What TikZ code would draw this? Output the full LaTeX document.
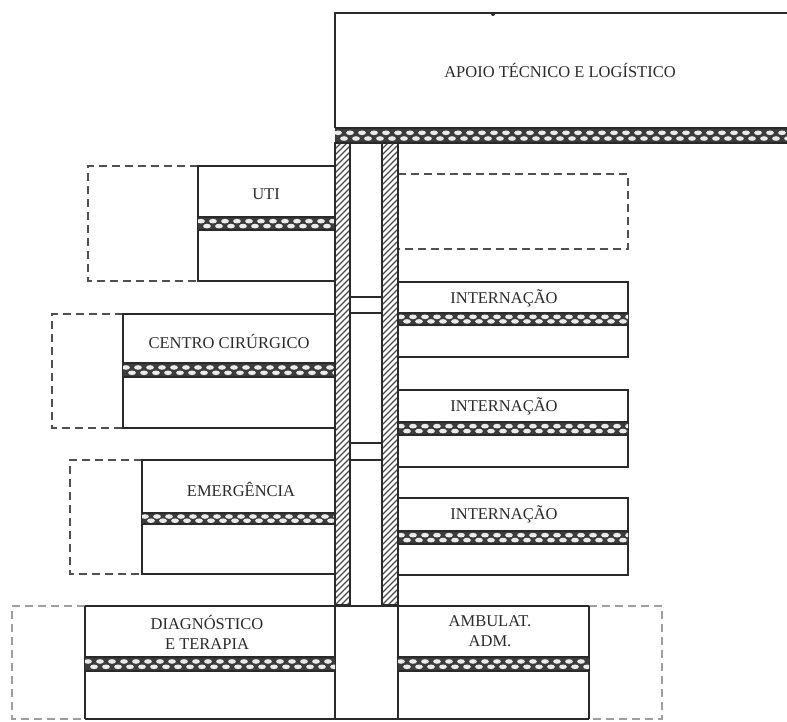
\documentclass[tikz,border=0pt]{standalone}
\usepackage{fontspec}
\setmainfont{Liberation Serif}
\definecolor{ink}{HTML}{2A2A2A}
\definecolor{bandgray}{HTML}{3C3C3C}
\definecolor{dashgray}{HTML}{505050}

% circulation band: dark strip with two staggered rows of light dots
% #1 left x, #2 right x, #3 top y, #4 bottom y
\newcommand{\serviceband}[4]{%
  \begin{scope}
    \clip (#1,#3) rectangle (#2,#4);
    \fill[bandgray] (#1,#3) rectangle (#2,#4);
    \foreach \k in {0,...,42}{
      \fill[white!92!black] ({#1+3+\k*12},{#3+0.32*(#4-#3)}) ellipse (3.9pt and 2.3pt);
      \fill[white!92!black] ({#1+9+\k*12},{#3+0.70*(#4-#3)}) ellipse (3.9pt and 2.3pt);
    }
  \end{scope}
  \draw[edge] (#1,#3) -- (#2,#3) (#1,#4) -- (#2,#4);
}

% hatched wall of the vertical shaft
% #1 left x, #2 right x, #3 top y, #4 bottom y
\newcommand{\shaftwall}[4]{%
  \begin{scope}
    \clip (#1,#3) rectangle (#2,#4);
    \foreach \k in {0,...,82}{
      \draw[ink!85, line width=1.1pt] ({#1-2},{#3+\k*6+2}) -- ({#2+2},{#3+\k*6-(#2-#1)-2});
    }
  \end{scope}
  \draw[edge] (#1,#3) rectangle (#2,#4);
}

% wing on the left of the shaft: dashed extension, solid block, band
% #1 dashed x, #2 solid x, #3 top, #4 band top, #5 band bottom, #6 bottom
\newcommand{\leftwing}[6]{%
  \draw[planned] (#2,#3) -- (#1,#3) -- (#1,#6) -- (#2,#6);
  \draw[edge] (335,#3) -- (#2,#3) -- (#2,#6) -- (335,#6);
  \serviceband{#2}{335}{#4}{#5}
}

% wing on the right of the shaft
% #1 top, #2 band top, #3 band bottom, #4 bottom
\newcommand{\rightwing}[4]{%
  \draw[edge] (398,#1) -- (628,#1) -- (628,#4) -- (398,#4);
  \serviceband{398}{628}{#2}{#3}
}

\begin{document}
\begin{tikzpicture}[x=1pt,y=-1pt,
  edge/.style={draw=ink,line width=1.4pt},
  planned/.style={draw=dashgray,line width=2pt,dash pattern=on 8pt off 5pt},
  faint/.style={draw=dashgray!55,line width=2pt,dash pattern=on 8pt off 5pt},
  label/.style={font=\fontsize{16.5}{20}\selectfont,align=center,inner sep=0pt,text=ink}]

\useasboundingbox (0,0) rectangle (787,721);

% technical and logistic support block (top)
\draw[edge] (787,13) -- (335,13) -- (335,128);
\fill[ink] (493,14) circle (2pt);
\serviceband{335}{787}{128}{143}
\node[label] (apoio) at (560,70) {APOIO TÉCNICO E LOGÍSTICO};

% left wings
\leftwing{88}{198}{166}{217}{230}{281}
\node[label] (uti) at (266,194) {UTI};

\leftwing{52}{123}{314}{363}{377}{428}
\node[label] (cc) at (229,341) {CENTRO CIRÚRGICO};

\leftwing{70}{142}{460}{513}{524}{574}
\node[label] (emerg) at (241,489) {EMERGÊNCIA};

% right wings
\draw[planned] (398,174) -- (628,174) -- (628,249) -- (398,249);

\rightwing{282}{313}{325}{357}
\node[label] (int1) at (504,298) {INTERNAÇÃO};

\rightwing{390}{422}{435}{467}
\node[label] (int2) at (504,406) {INTERNAÇÃO};

\rightwing{498}{531}{544}{575}
\node[label] (int3) at (504,514) {INTERNAÇÃO};

% base block
\draw[faint] (85,606) -- (12,606) -- (12,719) -- (85,719);
\draw[faint] (589,606) -- (662,606) -- (662,719) -- (589,719);
\draw[edge] (85,606) -- (589,606) (85,719) -- (589,719);
\draw[edge] (85,606) -- (85,719) (335,606) -- (335,719)
            (398,606) -- (398,719) (589,606) -- (589,719);
\serviceband{85}{335}{657}{671}
\serviceband{398}{589}{657}{671}
\node[label] (diag) at (207,632) {DIAGNÓSTICO\\E TERAPIA};
\node[label] (amb) at (490,631) {AMBULAT.\\ADM.};

% vertical shaft: two hatched walls and landings between them
\draw[edge] (350,297) -- (382,297) (350,313) -- (382,313)
            (350,443) -- (382,443) (350,460) -- (382,460);
\shaftwall{335}{350}{143}{605}
\shaftwall{382}{398}{143}{605}

\end{tikzpicture}
\end{document}
